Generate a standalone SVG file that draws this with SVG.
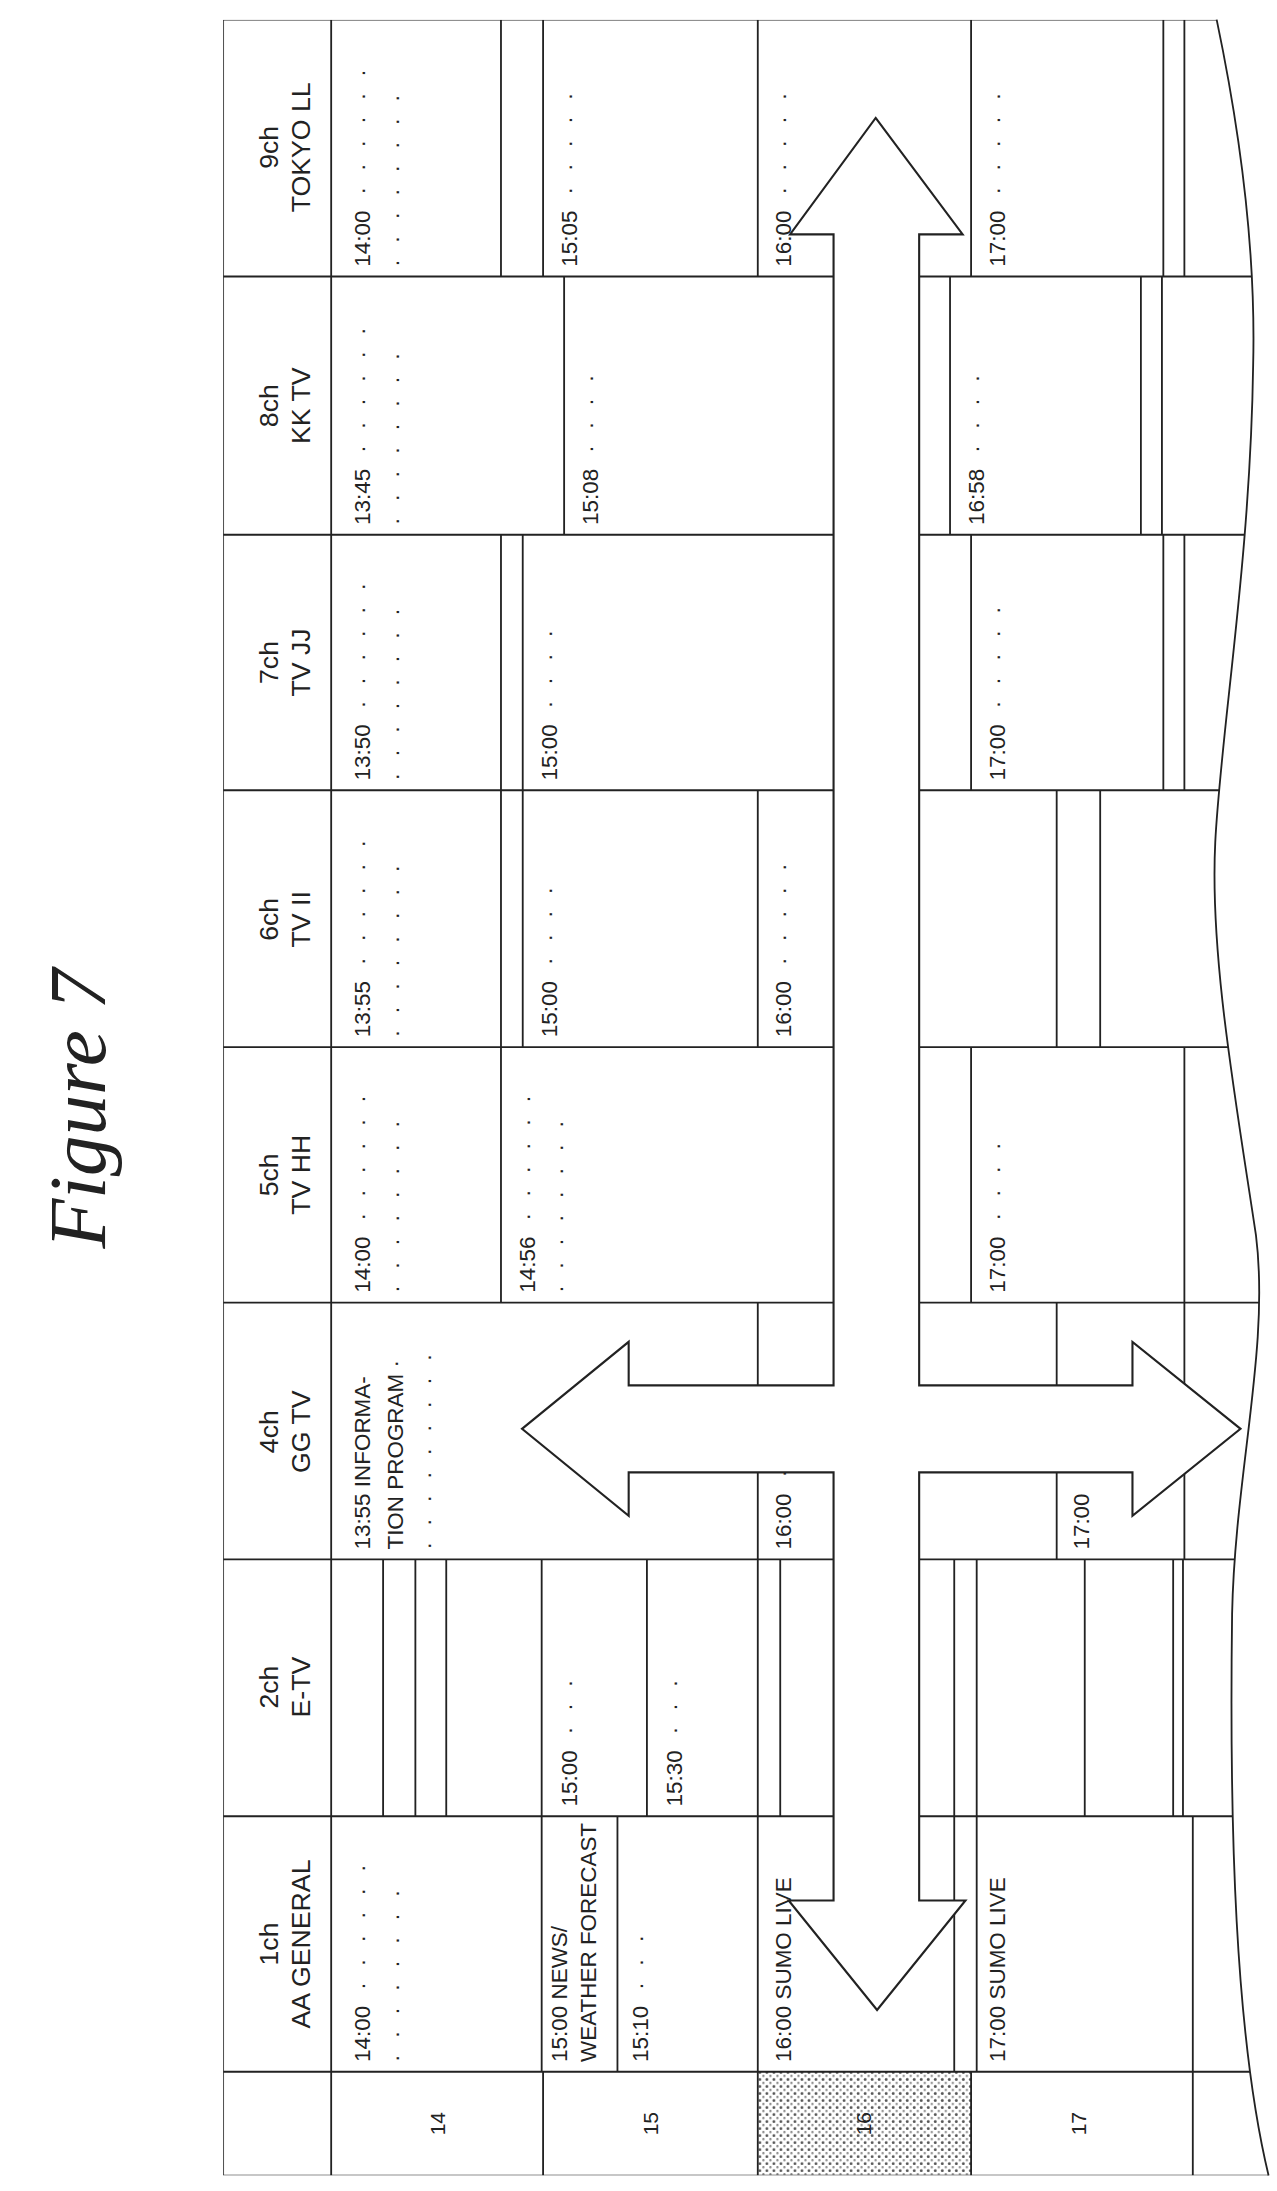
<svg xmlns="http://www.w3.org/2000/svg" width="1277" height="2191" viewBox="0 0 1277 2191">
<defs>
<style>
.ln{stroke:#222;stroke-width:1.3;fill:none}
.t{font-family:"Liberation Sans",Arial,sans-serif;font-size:16px;fill:#222;word-spacing:7px}
.w{word-spacing:0}
.h{font-family:"Liberation Sans",Arial,sans-serif;font-size:19px;fill:#222;text-anchor:middle}
.tm{font-family:"Liberation Sans",Arial,sans-serif;font-size:15px;fill:#222;text-anchor:middle}
</style>
<pattern id="dots" width="5" height="5" patternUnits="userSpaceOnUse">
<rect width="5" height="5" fill="#fff"/><circle cx="1.5" cy="1.5" r="1" fill="#555"/><circle cx="4" cy="4" r="0.8" fill="#888"/>
</pattern>
<clipPath id="clip"><path d="M159,14 L867,14 C885,100 895,180 893,260 C891,400 870,520 866,600 C862,680 880,780 895,880 C905,960 880,1050 878,1150 C876,1300 880,1450 904,1550 L159,1550 Z"/></clipPath>
</defs>
<rect width="1277" height="2191" fill="#fff"/>
<g transform="scale(1.4033,1.4036)">
<text transform="translate(75,790) rotate(-90)" font-family="Liberation Serif,serif" font-style="italic" font-size="58" text-anchor="middle" fill="#222">Figure 7</text>
<g id="table" clip-path="url(#clip)">
<rect x="540" y="1476" width="152" height="74" fill="url(#dots)"/>
<path class="ln" d="M159,14H960M159,197H960M159,381H960M159,563H960M159,746H960M159,928H960M159,1111H960M159,1294H960M159,1476H960M159,1550H960"/>
<path class="ln" d="M159,14V1550
M236,14V1550
M357,14V197M387,14V197M540,14V197M692,14V197M829,14V197M844,14V197
M402,197V381M677,197V381M813,197V381M828,197V381
M357,381V563M372.5,381V563M692,381V563M829,381V563M844,381V563
M357,563V746M372.5,563V746M540,563V746M753,563V746M784,563V746
M357,746V928M692,746V928M844,746V928
M540,928V1111M753,928V1111M844,928V1111
M273,1111V1294M296,1111V1294M318,1111V1294M386,1111V1294M461,1111V1294M540,1111V1294M556,1111V1294M680,1111V1294M696,1111V1294M773,1111V1294M836,1111V1294M843,1111V1294
M386,1294V1476M440,1294V1476M540,1294V1476M680,1294V1476M696,1294V1476M850,1294V1476
M387,1476V1550M540,1476V1550M692,1476V1550M850,1476V1550"/>
</g>
<path id="edge" class="ln" d="M867,14 C885,100 895,180 893,260 C891,400 870,520 866,600 C862,680 880,780 895,880 C905,960 880,1050 878,1150 C876,1300 880,1450 904,1550"/>
<g id="headers">
<text class="h" transform="translate(198,105) rotate(-90)">9ch</text><text class="h" transform="translate(221,105) rotate(-90)">TOKYO LL</text>
<text class="h" transform="translate(198,289) rotate(-90)">8ch</text><text class="h" transform="translate(221,289) rotate(-90)">KK TV</text>
<text class="h" transform="translate(198,472) rotate(-90)">7ch</text><text class="h" transform="translate(221,472) rotate(-90)">TV JJ</text>
<text class="h" transform="translate(198,655) rotate(-90)">6ch</text><text class="h" transform="translate(221,655) rotate(-90)">TV II</text>
<text class="h" transform="translate(198,837) rotate(-90)">5ch</text><text class="h" transform="translate(221,837) rotate(-90)">TV HH</text>
<text class="h" transform="translate(198,1020) rotate(-90)">4ch</text><text class="h" transform="translate(221,1020) rotate(-90)">GG TV</text>
<text class="h" transform="translate(198,1202) rotate(-90)">2ch</text><text class="h" transform="translate(221,1202) rotate(-90)">E-TV</text>
<text class="h" transform="translate(198,1385) rotate(-90)">1ch</text><text class="h" transform="translate(221,1385) rotate(-90)">AA GENERAL</text>
</g>
<g id="times">
<text class="tm" transform="translate(317,1513) rotate(-90)">14</text>
<text class="tm" transform="translate(469,1513) rotate(-90)">15</text>
<text class="tm" transform="translate(621,1513) rotate(-90)">16</text>
<text class="tm" transform="translate(774,1513) rotate(-90)">17</text>
</g>
<g id="programs">
<text class="t" transform="translate(264,190) rotate(-90)">14:00 · · · · · ·</text><text class="t" transform="translate(288,190) rotate(-90)">· · · · · · · ·</text>
<text class="t" transform="translate(411,190) rotate(-90)">15:05 · · · · ·</text>
<text class="t" transform="translate(564,190) rotate(-90)">16:00 · · · · ·</text>
<text class="t" transform="translate(716,190) rotate(-90)">17:00 · · · · ·</text>
<text class="t" transform="translate(264,374) rotate(-90)">13:45 · · · · · ·</text><text class="t" transform="translate(288,374) rotate(-90)">· · · · · · · ·</text>
<text class="t" transform="translate(426,374) rotate(-90)">15:08 · · · ·</text>
<text class="t" transform="translate(701,374) rotate(-90)">16:58 · · · ·</text>
<text class="t" transform="translate(264,556) rotate(-90)">13:50 · · · · · ·</text><text class="t" transform="translate(288,556) rotate(-90)">· · · · · · · ·</text>
<text class="t" transform="translate(397,556) rotate(-90)">15:00 · · · ·</text>
<text class="t" transform="translate(716,556) rotate(-90)">17:00 · · · · ·</text>
<text class="t" transform="translate(264,739) rotate(-90)">13:55 · · · · · ·</text><text class="t" transform="translate(288,739) rotate(-90)">· · · · · · · ·</text>
<text class="t" transform="translate(397,739) rotate(-90)">15:00 · · · ·</text>
<text class="t" transform="translate(564,739) rotate(-90)">16:00 · · · · ·</text>
<text class="t" transform="translate(264,921) rotate(-90)">14:00 · · · · · ·</text><text class="t" transform="translate(288,921) rotate(-90)">· · · · · · · ·</text>
<text class="t" transform="translate(381,921) rotate(-90)">14:56 · · · · · ·</text><text class="t" transform="translate(405,921) rotate(-90)">· · · · · · · ·</text>
<text class="t" transform="translate(716,921) rotate(-90)">17:00 · · · ·</text>
<text class="t w" transform="translate(264,1104) rotate(-90)">13:55 INFORMA-</text><text class="t w" transform="translate(287,1104) rotate(-90)">TION PROGRAM ·</text><text class="t" transform="translate(311,1104) rotate(-90)">· · · · · · · · ·</text>
<text class="t" transform="translate(564,1104) rotate(-90)">16:00 · · ·</text>
<text class="t" transform="translate(776,1104) rotate(-90)">17:00</text>
<text class="t" transform="translate(411,1287) rotate(-90)">15:00 · · ·</text>
<text class="t" transform="translate(486,1287) rotate(-90)">15:30 · · ·</text>
<text class="t" transform="translate(264,1469) rotate(-90)">14:00 · · · · · ·</text><text class="t" transform="translate(288,1469) rotate(-90)">· · · · · · · ·</text>
<text class="t w" transform="translate(404,1469) rotate(-90)">15:00 NEWS/</text><text class="t w" transform="translate(425,1469) rotate(-90)">WEATHER FORECAST</text>
<text class="t" transform="translate(462,1469) rotate(-90)">15:10 · · ·</text>
<text class="t w" transform="translate(564,1469) rotate(-90)">16:00 SUMO LIVE</text>
<text class="t w" transform="translate(716,1469) rotate(-90)">17:00 SUMO LIVE</text>
</g>
<g id="connectors">
<path d="M624,84 L686,167 L655,167 L655,987 L807,987 L807,956 L884,1018 L807,1080 L807,1049 L655,1049 L655,1354 L688,1354 L625,1432 L562,1354 L594,1354 L594,1049 L448,1049 L448,1080 L372,1018 L448,956 L448,987 L594,987 L594,167 L563,167 Z" fill="#fff" stroke="#222" stroke-width="1.5" stroke-linejoin="miter"/>
</g>
</g>
</svg>
